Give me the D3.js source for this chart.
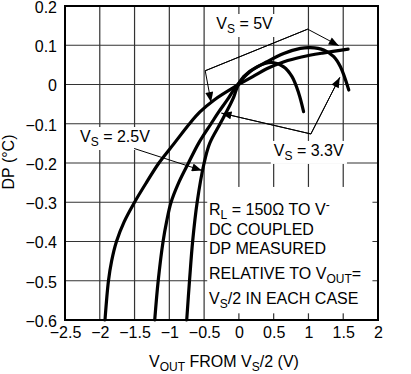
<!DOCTYPE html>
<html lang="en">
<head>
<meta charset="utf-8">
<script src="https://cdn.jsdelivr.net/npm/d3@7"></script>
<style>
  body { margin: 0; background: #fff; }
  text { font-family: "Liberation Sans", Arial, Helvetica, sans-serif; fill: #000; }
</style>
</head>
<body>
<script>
// axis ticks
var xTicks = [-2.5, -2, -1.5, -1, -0.5, 0, 0.5, 1, 1.5, 2];
var yTicks = [0.2, 0.1, 0, -0.1, -0.2, -0.3, -0.4, -0.5, -0.6];

// VS = 5V
var vs5X = [-1.925, -1.875, -1.83, -1.76, -1.65, -1.5, -1.33, -1.15, -0.93, -0.71, -0.56, -0.36, -0.05, 0.2, 0.4, 0.65, 0.9, 1.2, 1.57];
var vs5Y = [-0.6, -0.5, -0.45, -0.4, -0.35, -0.3, -0.25, -0.2, -0.15, -0.1, -0.07, -0.04, -0.005, 0.02, 0.04, 0.058, 0.07, 0.08, 0.09];

// VS = 3.3V
var vs33X = [-1.21, -1.16, -1.09, -1.04, -0.975, -0.865, -0.725, -0.58, -0.4, -0.29, -0.17, -0.04, 0.164, 0.404, 0.644, 0.884, 1.028, 1.22, 1.364, 1.46, 1.58];
var vs33Y = [-0.6, -0.5, -0.4, -0.35, -0.3, -0.25, -0.2, -0.15, -0.1, -0.07, -0.04, -0.005, 0.033, 0.058, 0.079, 0.092, 0.094, 0.088, 0.071, 0.045, -0.014];

// VS = 2.5V
var vs25X = [-0.75, -0.71, -0.665, -0.6, -0.5, -0.42, -0.27, -0.15, -0.07, -0.02, 0.068, 0.26, 0.476, 0.644, 0.764, 0.86, 0.93];
var vs25Y = [-0.6, -0.5, -0.4, -0.3, -0.2, -0.15, -0.1, -0.06, -0.03, -0.005, 0.02, 0.045, 0.056, 0.045, 0.02, -0.022, -0.069];

var w = 411, h = 374;
var mLeft = 65, mRight = 378, mTop = 6, mBottom = 320;

var svg = d3.select("body").append("svg")
    .attr("width", w)
    .attr("height", h);

var x = d3.scaleLinear().domain([-2.5, 2]).range([mLeft, mRight]);
var y = d3.scaleLinear().domain([-0.6, 0.2]).range([mBottom, mTop]);

// grid
var grid = svg.append("g").attr("stroke", "#333").attr("stroke-width", 1.2);
grid.selectAll("line.v")
    .data(xTicks.slice(1, -1))
    .enter().append("line")
    .attr("class", "v")
    .attr("x1", d => x(d)).attr("x2", d => x(d))
    .attr("y1", mTop).attr("y2", mBottom);
grid.selectAll("line.h")
    .data(yTicks.slice(1, -1))
    .enter().append("line")
    .attr("class", "h")
    .attr("x1", mLeft).attr("x2", mRight)
    .attr("y1", d => y(d)).attr("y2", d => y(d));

// notes box hides the grid
svg.append("rect")
    .attr("x", x(-0.455)).attr("y", y(-0.261))
    .attr("width", x(1.92) - x(-0.455))
    .attr("height", y(-0.583) - y(-0.261))
    .attr("fill", "#fff");

// axes
var fmt = d3.format("");
var xAxis = d3.axisBottom(x).tickValues(xTicks).tickFormat(fmt).tickSize(0).tickPadding(7);
var yAxis = d3.axisLeft(y).tickValues(yTicks).tickFormat(fmt).tickSize(0).tickPadding(8);

var gx = svg.append("g").attr("transform", "translate(0," + mBottom + ")").call(xAxis);
var gy = svg.append("g").attr("transform", "translate(" + mLeft + ",0)").call(yAxis);
[gx, gy].forEach(function (g) {
    g.select(".domain").remove();
    g.selectAll("text")
        .attr("font-size", 16)
        .attr("font-family", "'Liberation Sans', Arial, sans-serif")
        .attr("fill", "#000");
});
gy.selectAll("text").attr("dy", "0.4em");

// rich text helper: parts = [[str, "n"|"sub"|"sup"], ...]
function rich(t, parts, fs) {
    var shift = 0;
    parts.forEach(function (p) {
        var dy = 0, size = fs;
        if (p[1] === "sub") { dy = 4 - shift; shift = 4; size = fs * 0.75; }
        else if (p[1] === "sup") { dy = -6 - shift; shift = -6; size = fs * 0.75; }
        else { dy = -shift; shift = 0; }
        t.append("tspan").attr("dy", dy).attr("font-size", size).text(p[0]);
    });
    return t;
}

// labels with white backgrounds
var labels = [
    {x: -0.325, y: 0.1414, parts: [["V", "n"], ["S", "sub"], [" = 5V", "n"]]},
    {x: 0.502, y: -0.182, parts: [["V", "n"], ["S", "sub"], [" = 3.3V", "n"]]},
    {x: -2.284, y: -0.1465, parts: [["V", "n"], ["S", "sub"], [" = 2.5V", "n"]]}
];
var labelG = svg.append("g");
labels.forEach(function (l) {
    var g = labelG.append("g");
    var bg = g.append("rect").attr("fill", "#fff");
    var t = g.append("text").attr("x", x(l.x)).attr("y", y(l.y)).attr("font-size", 16);
    rich(t, l.parts, 16);
    var b = t.node().getBBox();
    bg.attr("x", b.x - 3).attr("y", b.y - 1).attr("width", b.width + 6).attr("height", b.height + 2);
});

// curves
var line = d3.line()
    .x(d => x(d[0]))
    .y(d => y(d[1]))
    .curve(d3.curveCatmullRom.alpha(0.5));

[[vs5X, vs5Y], [vs33X, vs33Y], [vs25X, vs25Y]].forEach(function (s) {
    svg.append("path")
        .datum(d3.zip(s[0], s[1]))
        .attr("fill", "none")
        .attr("stroke", "#000")
        .attr("stroke-width", 3.2)
        .attr("stroke-linecap", "round")
        .attr("d", line);
});

// leaders with arrowheads
svg.append("defs").append("marker")
    .attr("id", "arr")
    .attr("viewBox", "0 0 10 8")
    .attr("refX", 10).attr("refY", 4)
    .attr("markerWidth", 11).attr("markerHeight", 8)
    .attr("markerUnits", "userSpaceOnUse")
    .attr("orient", "auto")
    .append("path").attr("d", "M0,0L10,4L0,8Z").attr("fill", "#000");

var lead = d3.line().x(d => x(d[0])).y(d => y(d[1]));
var leaders = [
    [[0.989, 0.141], [-0.484, 0.035], [-0.40, -0.045]],
    [[-0.484, 0.035], [0.989, 0.141], [1.436, 0.099]],
    [[1.45, 0.018], [1.035, -0.126], [-0.25, -0.073]],
    [[-0.25, -0.073], [1.035, -0.126], [1.45, 0.018]],
    [[-1.506, -0.163], [-0.532, -0.219]]
];
leaders.forEach(function (pts) {
    svg.append("path")
        .datum(pts)
        .attr("fill", "none")
        .attr("stroke", "#000")
        .attr("stroke-width", 1)
        .attr("marker-end", "url(#arr)")
        .attr("d", lead);
});

// notes
var notes = [
    [["R", "n"], ["L", "sub"], [" = 150Ω TO V", "n"], ["-", "sup"]],
    [["DC COUPLED", "n"]],
    [["DP MEASURED", "n"]],
    [["RELATIVE TO V", "n"], ["OUT", "sub"], ["=", "n"]],
    [["V", "n"], ["S", "sub"], ["/2 IN EACH CASE", "n"]]
];
var noteBase = [214.5, 235, 254, 279, 304];
notes.forEach(function (parts, i) {
    var t = svg.append("text").attr("x", 209).attr("y", noteBase[i]).attr("font-size", 16);
    rich(t, parts, 16);
});

// axis titles
var xt = svg.append("text")
    .attr("x", 224).attr("y", 367)
    .attr("text-anchor", "middle")
    .attr("font-size", 16);
rich(xt, [["V", "n"], ["OUT", "sub"], [" FROM V", "n"], ["S", "sub"], ["/2 (V)", "n"]], 16);

svg.append("text")
    .attr("transform", "translate(14,162) rotate(-90)")
    .attr("text-anchor", "middle")
    .attr("font-size", 16)
    .text("DP (°C)");

// frame
svg.append("rect")
    .attr("x", mLeft).attr("y", mTop)
    .attr("width", mRight - mLeft).attr("height", mBottom - mTop)
    .attr("fill", "none")
    .attr("stroke", "#000")
    .attr("stroke-width", 2);
</script>
</body>
</html>
